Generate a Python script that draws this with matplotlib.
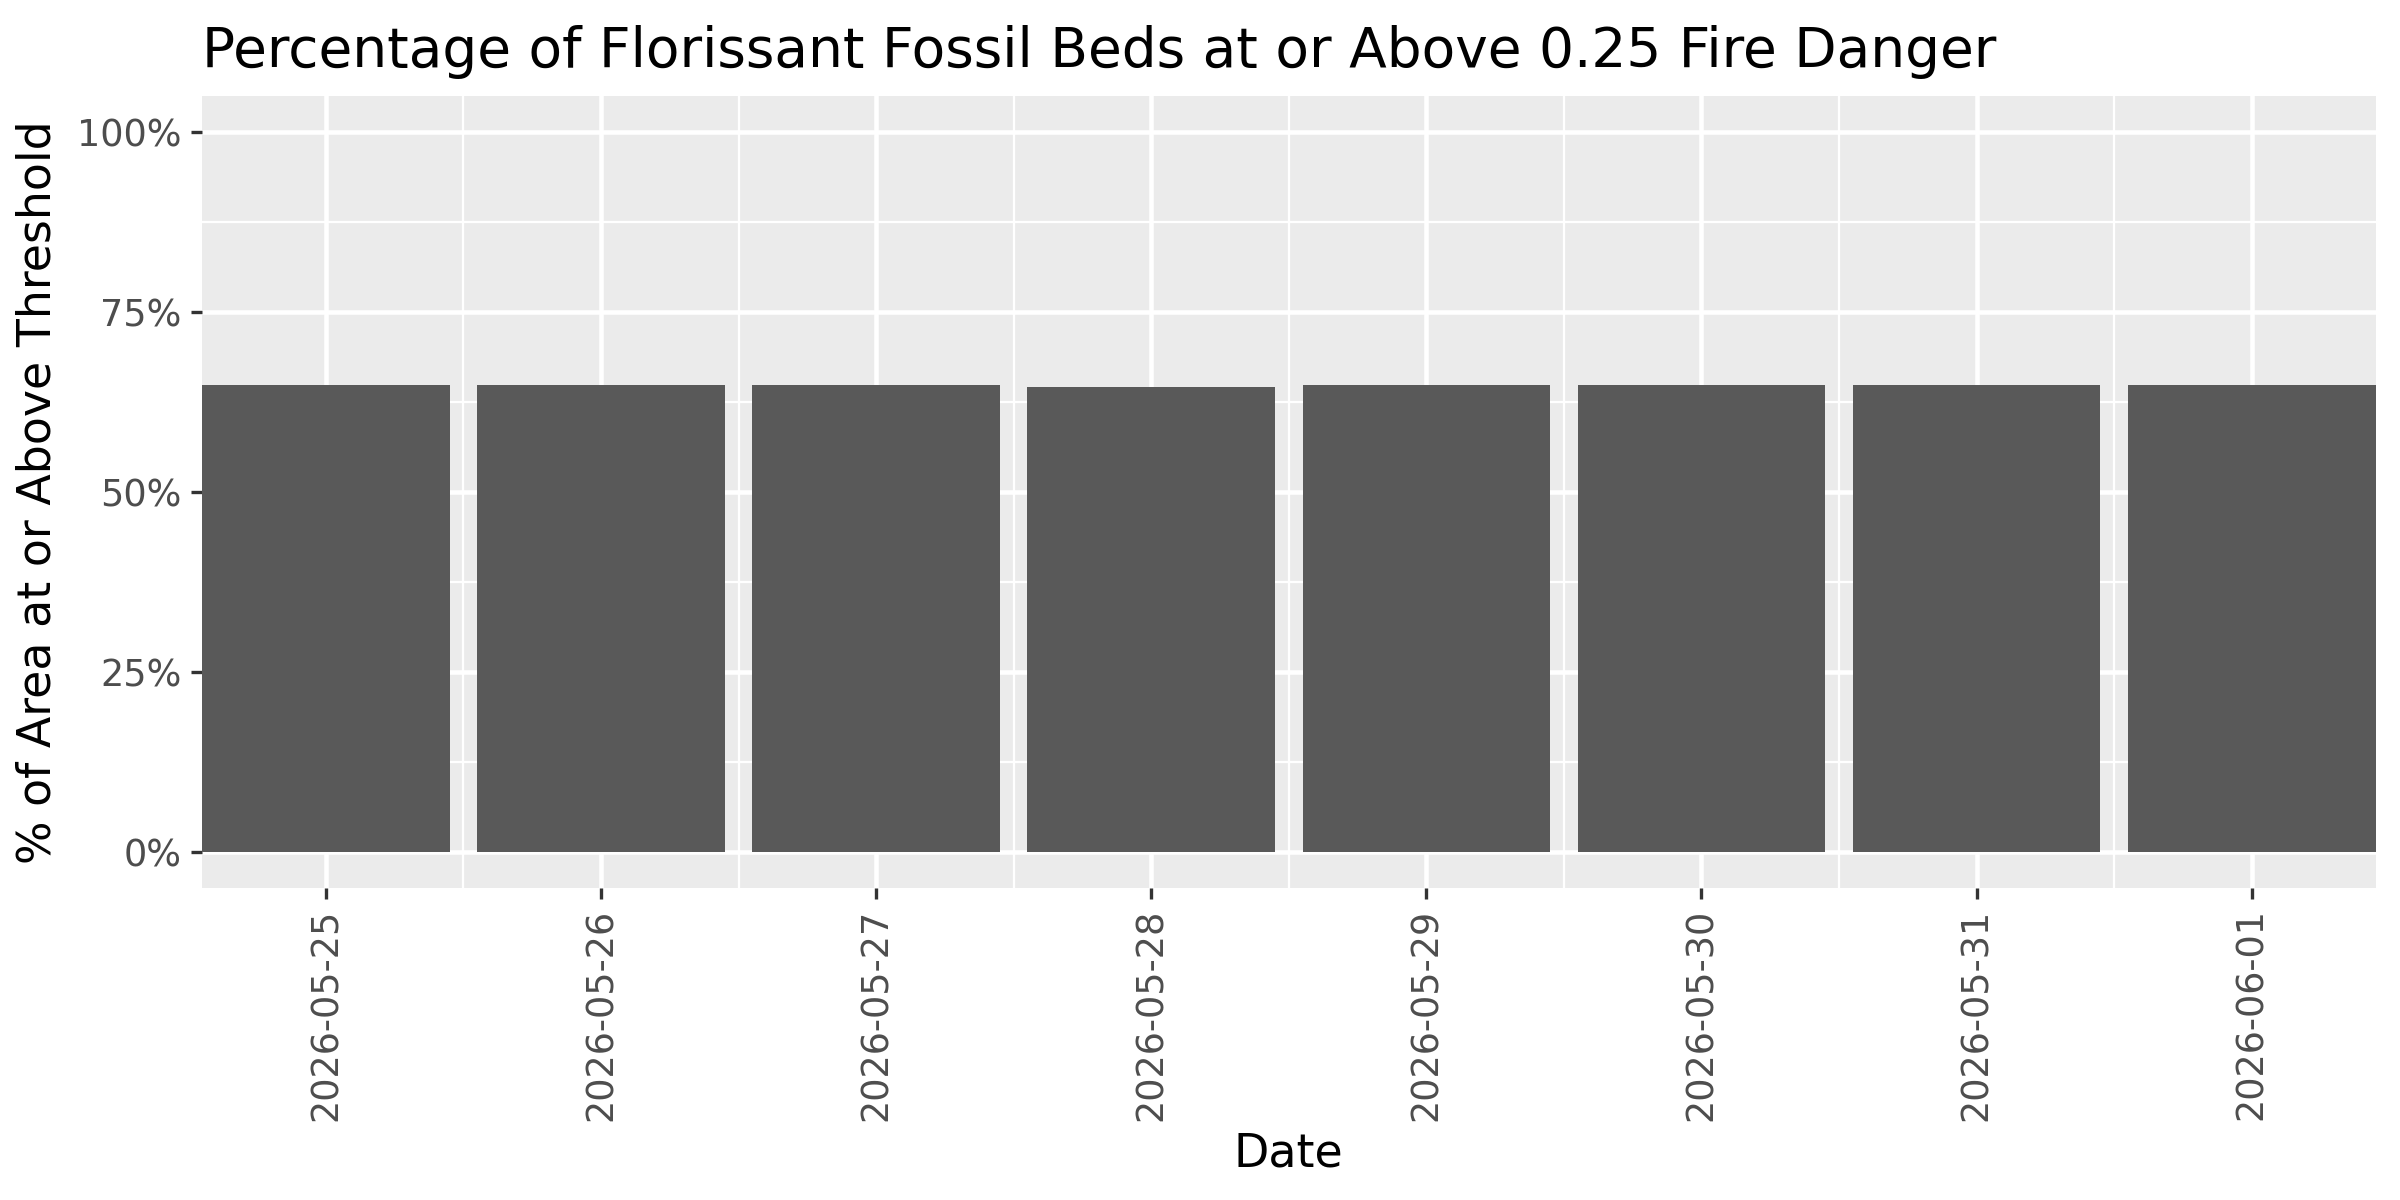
import matplotlib
matplotlib.use("Agg")
import matplotlib.pyplot as plt
from matplotlib.ticker import FixedLocator, FuncFormatter

# data
dates = ["2026-05-25", "2026-05-26", "2026-05-27", "2026-05-28",
         "2026-05-29", "2026-05-30", "2026-05-31", "2026-06-01"]
pct_above = [64.85, 64.85, 64.85, 64.55, 64.85, 64.85, 64.85, 64.85]

title = "Percentage of Florissant Fossil Beds at or Above 0.25 Fire Danger"

plt.rcParams['font.family'] = ['DejaVu Sans']

fig = plt.figure(figsize=(8, 4), dpi=300)
ax = fig.add_axes([0.0842, 0.2602, 0.9898 - 0.0842, 0.9196 - 0.2602])
ax.set_facecolor("#EBEBEB")

x = list(range(len(dates)))
ax.bar(x, pct_above, width=0.9, color="#595959", zorder=3)

ax.set_xlim(-0.45, len(dates) - 1 + 0.45)
ax.set_ylim(-5, 105)

# grid like ggplot theme_grey
ax.yaxis.set_major_locator(FixedLocator([0, 25, 50, 75, 100]))
ax.yaxis.set_minor_locator(FixedLocator([12.5, 37.5, 62.5, 87.5]))
ax.xaxis.set_major_locator(FixedLocator(x))
ax.xaxis.set_minor_locator(FixedLocator([i + 0.5 for i in x[:-1]]))
ax.grid(which="major", color="white", linewidth=1.1, zorder=1)
ax.grid(which="minor", color="white", linewidth=0.55, zorder=1)
ax.set_axisbelow(True)

ax.yaxis.set_major_formatter(FuncFormatter(lambda v, p: f"{v:.0f}%"))
ax.set_xticklabels(dates, rotation=90)

ax.tick_params(which="major", length=2.75, width=0.8, color="#333333",
               labelcolor="#4D4D4D", labelsize=8.8, pad=2.2)
ax.tick_params(which="minor", length=0)

for s in ax.spines.values():
    s.set_visible(False)

ax.set_xlabel("Date", fontsize=11, labelpad=2.5)
ax.set_ylabel("% of Area at or Above Threshold", fontsize=11, labelpad=4)
ax.set_title(title, fontsize=13.2, loc="left", pad=7)

fig.savefig("out.png", dpi=300)
